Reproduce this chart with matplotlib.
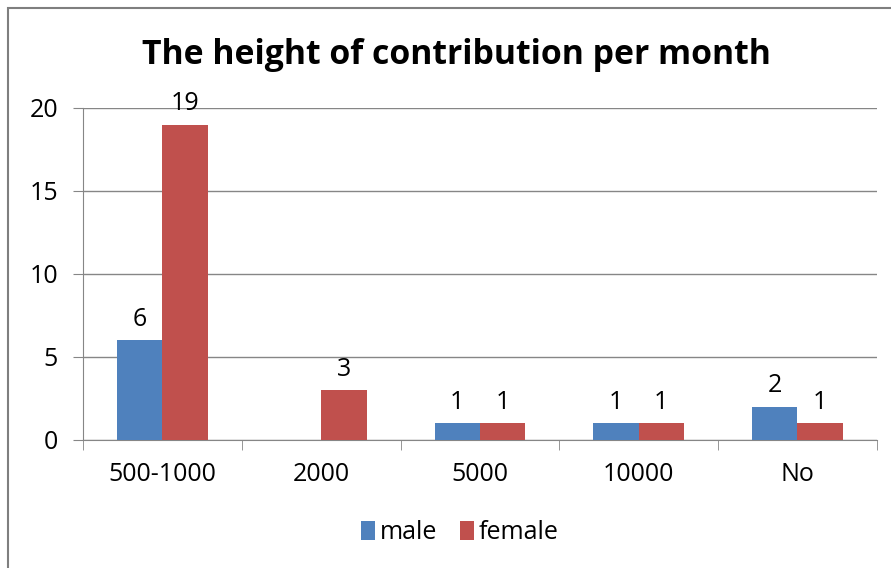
import numpy as np
import matplotlib.pyplot as plt
from matplotlib.patches import Rectangle

plt.rcParams['font.family'] = ['Open Sans', 'DejaVu Sans']

categories = ['500-1000', '2000', '5000', '10000', 'No']
male = [6, 0, 1, 1, 2]
female = [19, 3, 1, 1, 1]

blue = '#4F81BD'
red = '#C0504D'
fs = 18

fig = plt.figure(figsize=(8.91, 5.68), dpi=100)
ax = fig.add_axes([0.0932, 0.2254, 0.8908, 0.5845])

# chart-area border (cut off on right/bottom like the original)
fig.patches.append(Rectangle((8 / 891, -0.05), 1.0, 1 - 8 / 568 + 0.05,
                             transform=fig.transFigure, fill=False,
                             edgecolor='#7f7f7f', lw=1.5))

x = np.arange(len(categories))
w = 1 / 3.5
b1 = ax.bar(x - w / 2, male, w, color=blue, label='male', zorder=3)
b2 = ax.bar(x + w / 2, female, w, color=red, label='female', zorder=3)

ax.bar_label(b1, labels=[str(v) if v else '' for v in male], padding=6, fontsize=fs)
ax.bar_label(b2, labels=[str(v) if v else '' for v in female], padding=6, fontsize=fs)

ax.set_xlim(-0.5, len(categories) - 0.5)
ax.set_ylim(0, 20)
ax.set_yticks([0, 5, 10, 15, 20])
ax.yaxis.grid(True, color='#868686', lw=1, zorder=0)

ax.set_xticks(x)
ax.set_xticklabels(categories, fontsize=fs)
ax.set_xticks(np.arange(len(categories) + 1) - 0.5, minor=True)
ax.tick_params(axis='x', which='major', length=0, pad=16)
ax.tick_params(axis='x', which='minor', length=7, color='#868686')
ax.tick_params(axis='y', labelsize=fs, length=7, color='#868686', pad=11)

for s in ['top', 'right']:
    ax.spines[s].set_visible(False)
for s in ['left', 'bottom']:
    ax.spines[s].set_color('#868686')

fig.text(0.512, 0.903, 'The height of contribution per month', ha='center',
         va='center', fontsize=24.3, fontweight='bold')

fig.legend(handles=[b1, b2], loc='center', bbox_to_anchor=(0.516, 0.062),
           ncol=2, frameon=False, fontsize=fs, handlelength=0.55,
           handleheight=0.75, handletextpad=0.2, columnspacing=0.9)

fig.savefig('out.png', dpi=100)
